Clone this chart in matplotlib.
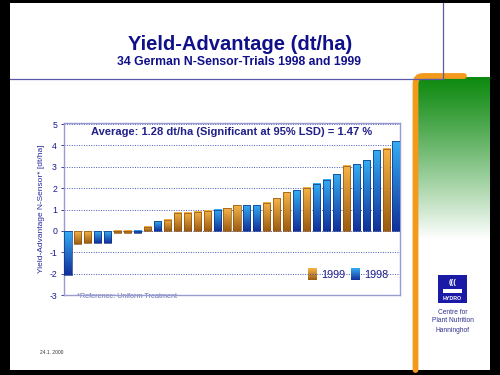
import numpy as np
import matplotlib
matplotlib.use('Agg')
import matplotlib.pyplot as plt
from matplotlib.patches import Rectangle
from matplotlib.path import Path
from matplotlib.patches import PathPatch
from matplotlib.colors import to_rgb

plt.rcParams['font.family'] = ['Liberation Sans', 'DejaVu Sans']
plt.rcParams['axes.unicode_minus'] = False

# trial results, sorted ascending (dt/ha)
yields = [-2.05, -0.6, -0.55, -0.55, -0.55, -0.12, -0.12, -0.12, 0.2, 0.45,
          0.52, 0.85, 0.85, 0.9, 0.95, 1.0, 1.05, 1.2, 1.2, 1.2,
          1.32, 1.52, 1.8, 1.9, 2.02, 2.2, 2.4, 2.65, 3.05, 3.12,
          3.3, 3.78, 3.85, 4.2]
years = [1998, 1999, 1999, 1998, 1998, 1999, 1999, 1998, 1999, 1998,
         1999, 1999, 1999, 1999, 1999, 1998, 1999, 1999, 1998, 1998,
         1999, 1999, 1999, 1998, 1999, 1998, 1998, 1998, 1999, 1998,
         1998, 1998, 1999, 1998]
yticks = [-3, -2, -1, 0, 1, 2, 3, 4, 5]

navy = '#1a1a8c'
grad = {1999: ('#f6b447', '#9c5c12', '#8a5010'),
        1998: ('#34acf2', '#12309c', '#103080')}


def vgrad(top, bottom, n=64):
    t = np.linspace(0, 1, n)[:, None]
    a = np.array(to_rgb(top))
    b = np.array(to_rgb(bottom))
    return (a * (1 - t) + b * t)[:, None, :].reshape(n, 1, 3)


fig = plt.figure(figsize=(5, 3.75), dpi=100, facecolor='black')

# slide background in pixel coordinates
bg = fig.add_axes([0, 0, 1, 1])
bg.set_xlim(0, 500)
bg.set_ylim(375, 0)
bg.axis('off')
bg.add_patch(Rectangle((10, 3), 480, 367, facecolor='white', edgecolor='none'))

# green panel
g = np.linspace(0, 1, 100)[:, None] ** 1.1
green = np.array(to_rgb('#0e8a10'))
img = (green * (1 - g) + np.ones(3) * g)[:, None, :]
bg.imshow(img, extent=[418, 490, 240, 77], aspect='auto', zorder=1)

# orange frame
verts = [(415.5, 370), (415.5, 84), (415.5, 76), (423, 76), (464, 76)]
codes = [Path.MOVETO, Path.LINETO, Path.CURVE3, Path.CURVE3, Path.LINETO]
bg.add_patch(PathPatch(Path(verts, codes), facecolor='none', edgecolor='#f39a1c',
                       lw=4.2, capstyle='round', zorder=2))

# title box
bg.plot([10, 443, 443], [79, 79, 3], color='#5a5aa8', lw=0.9, zorder=3)
bg.text(240, 44, 'Yield-Advantage (dt/ha)', ha='center', va='center',
        fontsize=14.5, fontweight='bold', color='#10108a')
bg.text(239, 62, '34 German N-Sensor-Trials 1998 and 1999', ha='center', va='center',
        fontsize=8.8, fontweight='bold', color='#10108a')

# logo
bg.add_patch(Rectangle((438, 275), 29, 28, facecolor='#1a1aa6', edgecolor='none', zorder=3))
bg.text(452.5, 283, '(((', ha='center', va='center', fontsize=5.5, color='white',
        fontweight='bold', zorder=4)
bg.add_patch(Rectangle((443, 289), 19, 4, facecolor='white', edgecolor='none', zorder=4))
bg.text(452.5, 298.5, 'HYDRO', ha='center', va='center', fontsize=3.8, color='white',
        fontweight='bold', zorder=4)
for i, line in enumerate(['Centre for', 'Plant Nutrition', 'Hanninghof']):
    bg.text(453, 312 + i * 9, line, ha='center', va='center', fontsize=4.8, color='#303090')

bg.text(40, 353, '24.1. 2000', ha='left', va='center', fontsize=3.5, color='#333333')

# chart
ax = fig.add_axes([0.128, 0.2133, 0.672, 0.4587])
x = np.arange(len(yields))
w = 0.72
bars = ax.bar(x, yields, width=w, color='none', zorder=3)
for b, v, yr in zip(bars, yields, years):
    top, bottom, edge = grad[yr]
    y0, y1 = min(0, v), max(0, v)
    ax.imshow(vgrad(top, bottom), extent=[b.get_x(), b.get_x() + w, y0, y1],
              aspect='auto', zorder=3)
    b.set_edgecolor(edge)
    b.set_linewidth(0.5)
    b.set_zorder(4)

ax.set_xlim(-0.4, len(yields) - 0.6)
ax.set_ylim(-3, 5.05)
ax.set_yticks(yticks)
ax.set_xticks([])
ax.tick_params(axis='y', labelsize=6.3, colors=navy, length=2, width=0.6, pad=3)
for t in ax.get_yticklabels():
    t.set_color(navy)
ax.grid(axis='y', linestyle=(0, (1, 1.5)), color='#4a58b0', lw=0.7, zorder=1)
for s in ax.spines.values():
    s.set_color('#9a9ad0')
    s.set_linewidth(1)
ax.set_ylabel('Yield-Advantage N-Sensor* [dt/ha]', fontsize=6, color='#2a2a9a', labelpad=3)

ax.text(0.5, 0.945, 'Average: 1.28 dt/ha (Significant at 95% LSD) = 1.47 %',
        transform=ax.transAxes, ha='center', va='center', fontsize=8,
        fontweight='bold', color='#20208a')

# legend
for xp, yr in [(308, 1999), (351, 1998)]:
    top, bottom, edge = grad[yr]
    bg.imshow(vgrad(top, bottom), extent=[xp, xp + 9, 280, 268], aspect='auto', zorder=6)
    bg.text(xp + 13, 275, str(yr), ha='left', va='center', fontsize=7.8, color=navy, zorder=6)

bg.text(77, 297, '*Reference: Uniform Treatment', ha='left', va='center',
        fontsize=5.2, color='#6070b0', zorder=6)

bg.set_xlim(0, 500)
bg.set_ylim(375, 0)
bg.set_zorder(0)
ax.set_zorder(1)
ax.patch.set_alpha(0)

fig.savefig('out.png', dpi=100, facecolor='black')
